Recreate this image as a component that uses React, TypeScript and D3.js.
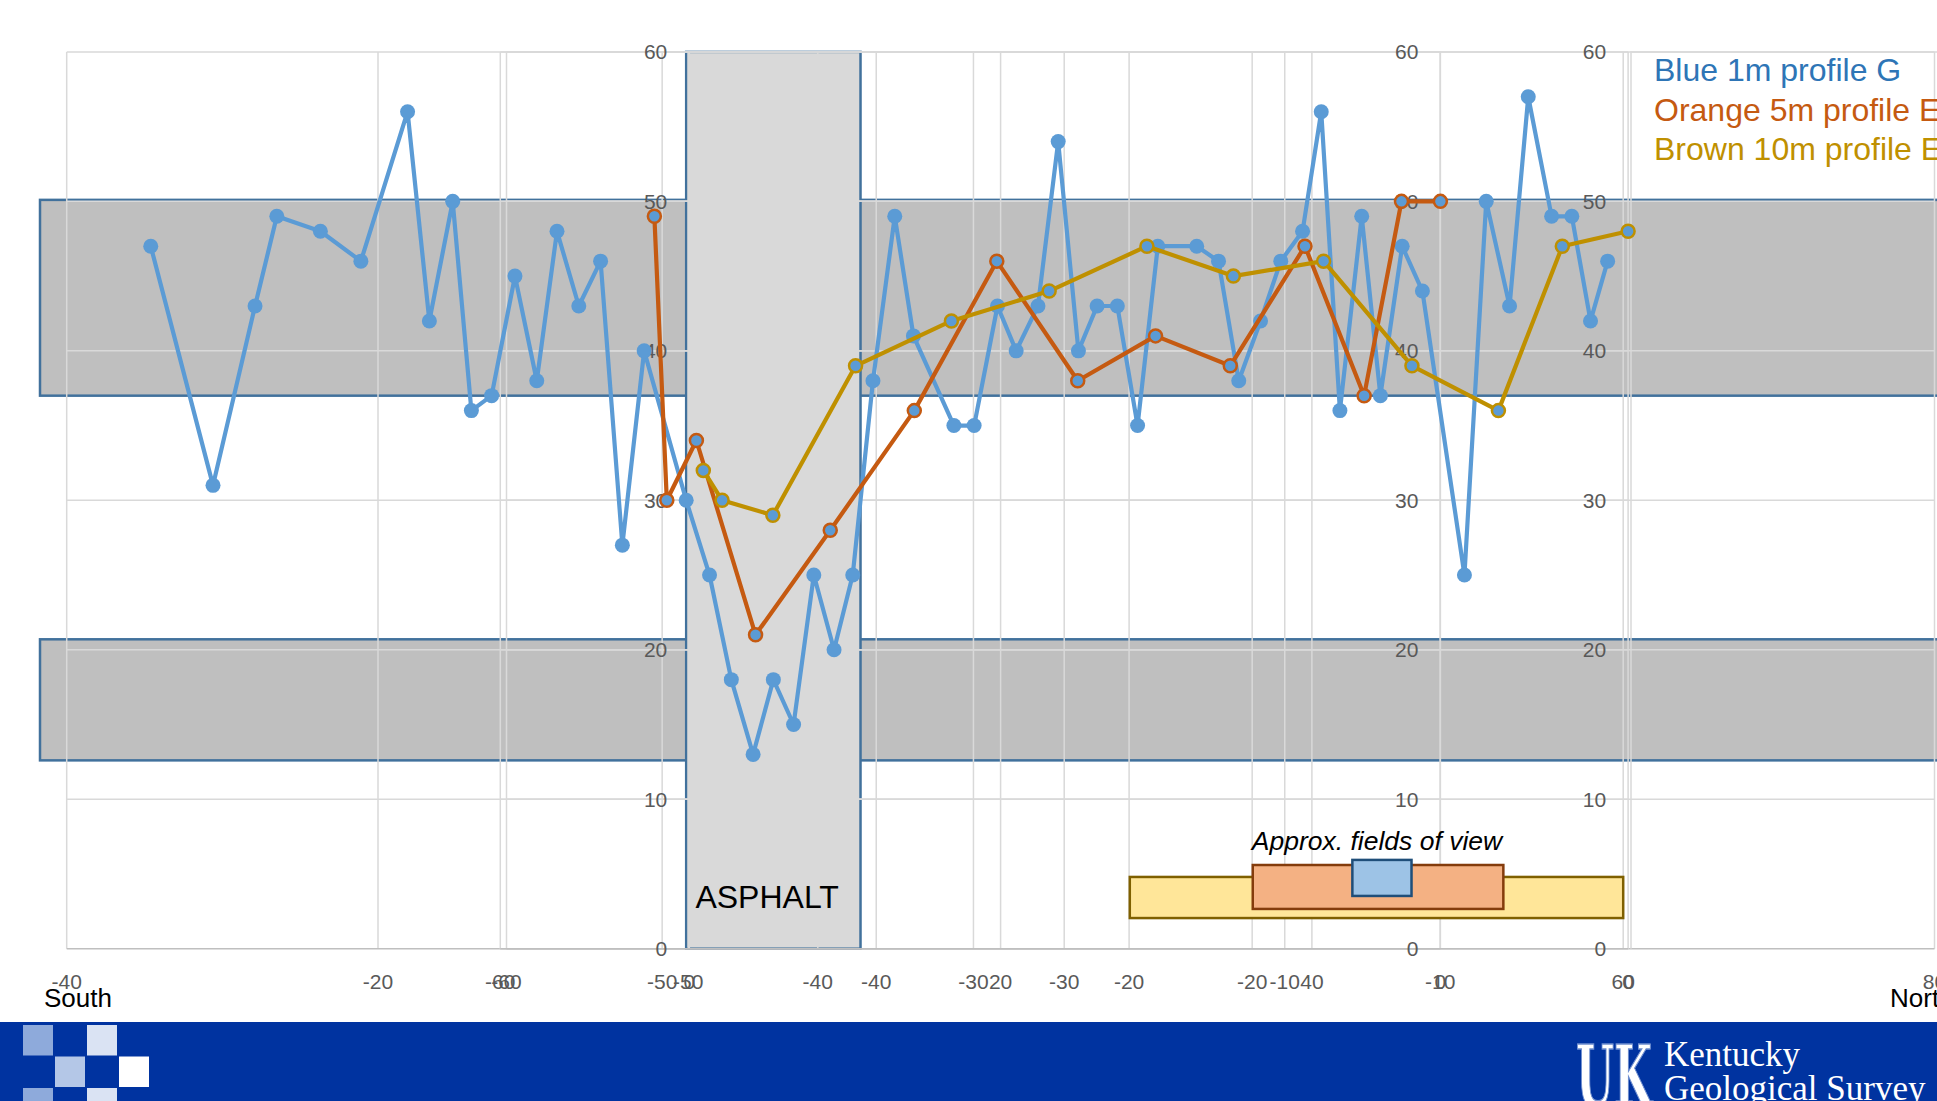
import React, { useEffect, useRef } from 'react';
import * as d3 from 'd3';

// Blue 1m profile (chart 1, x from -40 to 80)
const blueX = [-34.6, -30.6, -27.9, -26.5, -23.7, -21.1, -18.1, -16.7, -15.2, -14.0,
  -12.7, -11.2, -9.8, -8.5, -7.1, -5.7, -4.3, -2.9, -0.2, 1.3,
  2.7, 4.1, 5.4, 6.7, 8.0, 9.3, 10.5, 11.8, 13.2, 14.4,
  17.0, 18.3, 19.8, 21.0, 22.4, 23.7, 25.0, 26.2, 27.5, 28.8,
  30.1, 32.6, 34.0, 35.3, 36.7, 38.0, 39.4, 40.6, 41.8, 43.2,
  44.4, 45.8, 47.1, 49.8, 51.2, 52.7, 53.9, 55.4, 56.7, 57.9, 59.0];
const blueY = [47, 31, 43, 49, 48, 46, 56, 42, 50, 36,
  37, 45, 38, 48, 43, 46, 27, 40, 30, 25,
  18, 13, 18, 15, 25, 20, 25, 38, 49, 41,
  35, 35, 43, 40, 43, 54, 40, 43, 43, 35,
  47, 47, 46, 38, 42, 46, 48, 56, 36, 49,
  37, 47, 44, 25, 50, 43, 57, 49, 49, 42, 46];

// Orange 5m profile (chart 2, x from -60 to 0)
const orangeX = [-50.5, -49.7, -47.8, -44.0, -39.2, -33.8, -28.5, -23.3, -18.3, -13.5, -8.7, -4.9, -2.5, 0];
const orangeY = [49, 30, 34, 21, 28, 36, 46, 38, 41, 39, 47, 37, 50, 50];

// Brown 10m profile (chart 3, x from -60 to 0)
const brownX = [-49.2, -48.2, -45.5, -41.1, -36.0, -30.8, -25.6, -21.0, -16.2, -11.5, -6.9, -3.5, 0];
const brownY = [32, 30, 29, 39, 42, 44, 47, 45, 46, 39, 36, 47, 48];

const xTicks1 = [-40, -20, 0, 20, 40, 60, 80];
const xTicks23 = [-60, -50, -40, -30, -20, -10, 0];
const yTicks = [0, 10, 20, 30, 40, 50, 60];

const legendLabels = ['Blue 1m profile G', 'Orange 5m profile E', 'Brown 10m profile E'];
const legendColors = ['#2e75b6', '#c55a11', '#bf9000'];

const W = 1937;
const H = 1101;

const App: React.FC = () => {
  const svgRef = useRef<SVGSVGElement>(null);

  useEffect(() => {
    if (!svgRef.current) return;
    const svg = d3.select(svgRef.current);
    svg.selectAll('*').remove();

    const y = d3.scaleLinear().domain([0, 60]).range([948.7, 51.9]);
    const x1 = d3.scaleLinear().domain([-40, 80]).range([66.7, 1934.5]);
    const x2 = d3.scaleLinear().domain([-60, 0]).range([506.5, 1440.4]);
    const x3 = d3.scaleLinear().domain([-60, 0]).range([500.3, 1628.1]);

    svg.append('rect').attr('width', W).attr('height', H).attr('fill', '#fff');

    // background shapes: grey bands (in chart 1 units)
    const bands = [[37, 50.1], [12.6, 20.7]];
    bands.forEach(b => {
      svg.append('rect')
        .attr('x', 40).attr('y', y(b[1]))
        .attr('width', W).attr('height', y(b[0]) - y(b[1]))
        .attr('fill', '#bfbfbf')
        .attr('stroke', '#41719c').attr('stroke-width', 2.5);
    });

    // asphalt block
    svg.append('rect')
      .attr('x', x1(-0.2)).attr('y', y(60))
      .attr('width', x1(11) - x1(-0.2)).attr('height', y(0) - y(60))
      .attr('fill', '#d9d9d9')
      .attr('stroke', '#41719c').attr('stroke-width', 2.5);

    const grid = (xs: d3.ScaleLinear<number, number>, ticks: number[]) => {
      const g = svg.append('g');
      const [xa, xb] = xs.range();
      ticks.forEach(t => {
        g.append('line')
          .attr('x1', xs(t)).attr('x2', xs(t))
          .attr('y1', y(60)).attr('y2', y(0))
          .attr('stroke', '#d9d9d9').attr('stroke-width', 1.5);
      });
      yTicks.forEach(t => {
        g.append('line')
          .attr('x1', xa).attr('x2', xb)
          .attr('y1', y(t)).attr('y2', y(t))
          .attr('stroke', t === 0 ? '#bfbfbf' : '#d9d9d9').attr('stroke-width', 1.5);
      });
    };
    grid(x1, xTicks1);
    grid(x2, xTicks23);
    grid(x3, xTicks23);

    // legend frame
    svg.append('path')
      .attr('d', `M1631,${y(0)}V${y(60)}H${W}`)
      .attr('fill', 'none').attr('stroke', '#d9d9d9').attr('stroke-width', 1.5);

    // axis labels
    const labelStyle = (sel: any) => sel
      .style('font-family', '"Liberation Sans", Arial, sans-serif')
      .style('font-size', '21px')
      .style('fill', '#595959');

    const xLabels = (xs: d3.ScaleLinear<number, number>, ticks: number[]) => {
      ticks.forEach(t => {
        svg.append('text')
          .attr('x', xs(t)).attr('y', 989)
          .attr('text-anchor', 'middle')
          .call(labelStyle)
          .text(String(t));
      });
    };
    const yLabels = (xs: d3.ScaleLinear<number, number>) => {
      yTicks.forEach(t => {
        svg.append('text')
          .attr('x', xs(0) - 22).attr('y', y(t))
          .attr('dy', '0.35em')
          .attr('text-anchor', 'end')
          .call(labelStyle)
          .text(String(t));
      });
    };
    xLabels(x1, xTicks1);
    xLabels(x2, xTicks23);
    xLabels(x3, xTicks23);
    yLabels(x1);
    yLabels(x2);
    yLabels(x3);

    // ASPHALT label
    svg.append('text')
      .attr('x', x1(5.0)).attr('y', 908)
      .attr('text-anchor', 'middle')
      .style('font-family', '"Liberation Sans", Arial, sans-serif')
      .style('font-size', '32px')
      .style('fill', '#000')
      .text('ASPHALT');

    // fields of view
    const fov = [
      { x0: 28.3, x1: 60.0, y0: 2.05, y1: 4.8, fill: '#ffe699', stroke: '#7f6000' },
      { x0: 36.2, x1: 52.3, y0: 2.66, y1: 5.6, fill: '#f4b183', stroke: '#843c0c' },
      { x0: 42.6, x1: 46.4, y0: 3.53, y1: 5.94, fill: '#9dc3e6', stroke: '#1f4e79' },
    ];
    fov.forEach(f => {
      svg.append('rect')
        .attr('x', x1(f.x0)).attr('y', y(f.y1))
        .attr('width', x1(f.x1) - x1(f.x0)).attr('height', y(f.y0) - y(f.y1))
        .attr('fill', f.fill).attr('stroke', f.stroke).attr('stroke-width', 2.5);
    });
    svg.append('text')
      .attr('x', 1377).attr('y', 850)
      .attr('text-anchor', 'middle')
      .style('font-family', '"Liberation Sans", Arial, sans-serif')
      .style('font-size', '26.5px')
      .style('font-style', 'italic')
      .style('fill', '#000')
      .text('Approx. fields of view');

    // series
    const series = [
      { xs: x1, xv: blueX, yv: blueY, line: '#5b9bd5', mark: '#5b9bd5', r: 7.5, sw: 0 },
      { xs: x2, xv: orangeX, yv: orangeY, line: '#c55a11', mark: '#c55a11', r: 6.5, sw: 2.5 },
      { xs: x3, xv: brownX, yv: brownY, line: '#bf9000', mark: '#bf9000', r: 6.5, sw: 2.5 },
    ];
    series.forEach(s => {
      const pts: [number, number][] = s.xv.map((v, i) => [s.xs(v), y(s.yv[i])]);
      svg.append('path')
        .attr('d', d3.line()(pts) || '')
        .attr('fill', 'none')
        .attr('stroke', s.line)
        .attr('stroke-width', 4.2)
        .attr('stroke-linejoin', 'round');
      svg.append('g').selectAll('circle')
        .data(pts)
        .join('circle')
        .attr('cx', d => d[0]).attr('cy', d => d[1])
        .attr('r', s.r)
        .attr('fill', '#5b9bd5')
        .attr('stroke', s.sw ? s.mark : 'none')
        .attr('stroke-width', s.sw);
    });

    // legend
    legendLabels.forEach((l, i) => {
      svg.append('text')
        .attr('x', 1654).attr('y', 81 + i * 39.5)
        .style('font-family', '"Liberation Sans", Arial, sans-serif')
        .style('font-size', '32px')
        .style('fill', legendColors[i])
        .text(l);
    });

    // South / North
    svg.append('text').attr('x', 44).attr('y', 1007)
      .style('font-family', '"Liberation Sans", Arial, sans-serif')
      .style('font-size', '26px').text('South');
    svg.append('text').attr('x', 1890).attr('y', 1007)
      .style('font-family', '"Liberation Sans", Arial, sans-serif')
      .style('font-size', '26px').text('North');

    // footer band
    svg.append('rect').attr('x', 0).attr('y', 1022).attr('width', W).attr('height', H - 1022)
      .attr('fill', '#0033a0');
    const checks = [
      { c: 0, r: 0, fill: '#8eaadb' }, { c: 2, r: 0, fill: '#dae3f3' },
      { c: 1, r: 1, fill: '#b4c7e7' }, { c: 3, r: 1, fill: '#ffffff' },
      { c: 0, r: 2, fill: '#8eaadb' }, { c: 2, r: 2, fill: '#dae3f3' },
    ];
    checks.forEach(k => {
      svg.append('rect')
        .attr('x', 23 + k.c * 32).attr('y', 1025 + k.r * 31.5)
        .attr('width', 30).attr('height', 30.5)
        .attr('fill', k.fill);
    });

    // KGS logo
    svg.append('text')
      .attr('x', 1576).attr('y', 1106)
      .attr('textLength', 76).attr('lengthAdjust', 'spacingAndGlyphs')
      .style('font-family', '"DejaVu Serif", "Liberation Serif", serif')
      .style('font-weight', 'bold')
      .style('font-size', '84px')
      .style('fill', '#fff')
      .style('stroke', '#6f8fd0').style('stroke-width', 1.5)
      .text('UK');
    svg.append('text').attr('x', 1664).attr('y', 1066)
      .style('font-family', '"Liberation Serif", "Times New Roman", serif')
      .style('font-size', '35px').style('fill', '#fff')
      .text('Kentucky');
    svg.append('text').attr('x', 1664).attr('y', 1100)
      .style('font-family', '"Liberation Serif", "Times New Roman", serif')
      .style('font-size', '35px').style('fill', '#fff')
      .text('Geological Survey');
  }, []);

  return (
    <svg
      ref={svgRef}
      width={W}
      height={H}
      style={{ position: 'fixed', top: 0, left: 0, display: 'block' }}
    />
  );
};

export default App;
